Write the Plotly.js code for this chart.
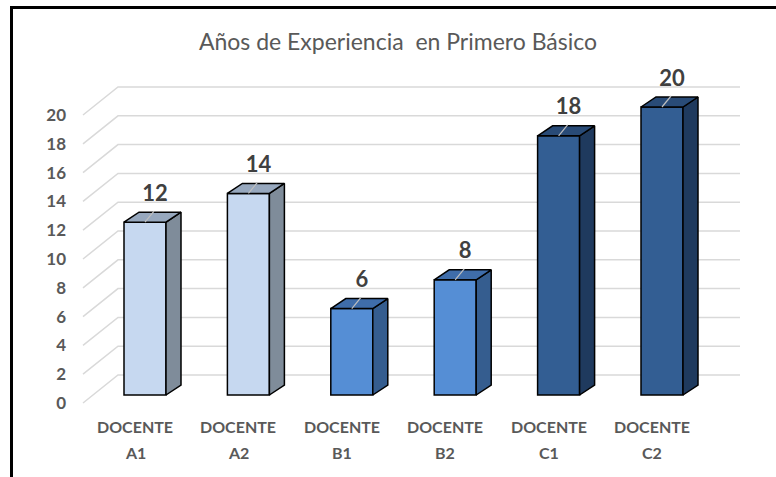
<!DOCTYPE html>
<html>
<head>
<meta charset="utf-8">
<script src="https://cdn.plot.ly/plotly-3.0.1.min.js"></script>
<style>
html,body{margin:0;padding:0;background:#fff;}
#chart{width:776px;height:477px;}
</style>
</head>
<body>
<div id="chart"></div>
<script>
// ---- data ----
const categories = ['DOCENTE A1','DOCENTE A2','DOCENTE B1','DOCENTE B2','DOCENTE C1','DOCENTE C2'];
const values = [12, 14, 6, 8, 18, 20];
const yTicks = [0, 2, 4, 6, 8, 10, 12, 14, 16, 18, 20];
const titleText = 'Años de Experiencia  en Primero Básico';

// ---- styles ----
const frontColors = ['#C6D8F0','#C6D8F0','#558ED5','#558ED5','#335E93','#335E93'];
const sideColors  = ['#7F8C9A','#7F8C9A','#355D8F','#355D8F','#1F3A5E','#1F3A5E'];
const topColors   = ['#97A8BE','#97A8BE','#3F6DAA','#3F6DAA','#294B77','#294B77'];

const PX_X = 103.4;   // pixels per category
const PX_Y = 14.4;    // pixels per unit
const barW = 42 / PX_X;
const ddx = 15 / PX_X, ddy = 10 / PX_Y;       // bar depth
const idx = categories.map((c, i) => i);

const traces = [];
// front faces
traces.push({
  type: 'bar', x: idx, y: values, width: barW,
  marker: {color: frontColors, line: {color: '#000', width: 1.5}},
  hoverinfo: 'skip', showlegend: false
});
// side + top faces
values.forEach((v, i) => {
  const l = i - barW / 2, r = i + barW / 2;
  traces.push({
    type: 'scatter', mode: 'lines', fill: 'toself', fillcolor: sideColors[i],
    x: [r, r + ddx, r + ddx, r, r], y: [0, ddy, v + ddy, v, 0],
    line: {color: '#000', width: 1.5}, hoverinfo: 'skip', showlegend: false
  });
  traces.push({
    type: 'scatter', mode: 'lines', fill: 'toself', fillcolor: topColors[i],
    x: [l, l + ddx, r + ddx, r, l], y: [v, v + ddy, v + ddy, v, v],
    line: {color: '#000', width: 1.5}, hoverinfo: 'skip', showlegend: false
  });
  // leader line
  traces.push({
    type: 'scatter', mode: 'lines',
    x: [i, i + 0.6 * ddx], y: [v, v + 1.1 * ddy],
    line: {color: '#BFBFBF', width: 1.2}, hoverinfo: 'skip', showlegend: false
  });
});
// data labels
traces.push({
  type: 'scatter', mode: 'text',
  x: idx.map(i => i + 10 / PX_X), y: values.map(v => v + 27 / PX_Y),
  text: values.map(String), textposition: 'middle center',
  textfont: {family: 'Lato, sans-serif', size: 22, color: '#404040', weight: 'bold'},
  hoverinfo: 'skip', showlegend: false
});

// gridlines (3D floor/back wall)
const gFrontX = (83 - 145) / PX_X, gBackX = (118 - 145) / PX_X, gEndX = (740 - 145) / PX_X;
const gFrontDy = -8 / PX_Y, gBackDy = 20 / PX_Y;
const shapes = yTicks.map(t => ({
  type: 'path', layer: 'below', xref: 'x', yref: 'y',
  path: `M ${gFrontX},${t + gFrontDy} L ${gBackX},${t + gBackDy} L ${gEndX},${t + gBackDy}`,
  line: {color: '#D9D9D9', width: 1.5}
}));
// frame (top and left border)
const L = 81, R = 31, T = 60, B = 67, W = 776, H = 477;
const pw = W - L - R, ph = H - T - B;
const px2paperX = px => (px - L) / pw;
const py2paperY = py => (H - B - py) / ph;
shapes.push({type: 'line', xref: 'paper', yref: 'paper', layer: 'above',
  x0: px2paperX(10), x1: px2paperX(776), y0: py2paperY(7.5), y1: py2paperY(7.5),
  line: {color: '#000', width: 3}});
shapes.push({type: 'line', xref: 'paper', yref: 'paper', layer: 'above',
  x0: px2paperX(11.5), x1: px2paperX(11.5), y0: py2paperY(6), y1: py2paperY(477),
  line: {color: '#000', width: 3}});

// category labels (two lines)
const annotations = [];
categories.forEach((c, i) => {
  const parts = c.split(' ');
  annotations.push({xref: 'x', yref: 'paper', x: i - 10 / PX_X, y: py2paperY(426),
    text: parts[0], showarrow: false, xanchor: 'center', yanchor: 'middle',
    font: {family: 'Lato, sans-serif', size: 16, color: '#595959', weight: 'bold'}});
  annotations.push({xref: 'x', yref: 'paper', x: i - 10 / PX_X, y: py2paperY(452),
    text: parts[1], showarrow: false, xanchor: 'center', yanchor: 'middle',
    font: {family: 'Lato, sans-serif', size: 16, color: '#595959', weight: 'bold'}});
});

const layout = {
  width: W, height: H,
  margin: {l: L, r: R, t: T, b: B},
  paper_bgcolor: '#fff', plot_bgcolor: 'rgba(0,0,0,0)',
  title: {text: titleText, x: 398 / W, xref: 'container', xanchor: 'center',
    y: 1 - 42 / H, yref: 'container', yanchor: 'middle',
    font: {family: 'Lato, sans-serif', size: 23, color: '#595959'}},
  xaxis: {range: [(L - 145) / PX_X, (W - R - 145) / PX_X], showgrid: false, zeroline: false,
    showline: false, showticklabels: false, ticks: '', fixedrange: true},
  yaxis: {range: [(395 - (H - B)) / PX_Y, (395 - T) / PX_Y], showgrid: false, zeroline: false,
    showline: false, ticks: '', tickvals: yTicks.map(t => t + gFrontDy), ticktext: yTicks.map(String),
    ticklabelstandoff: 14,
    tickfont: {family: 'Lato, sans-serif', size: 17, color: '#595959', weight: 'bold'}, fixedrange: true},
  shapes: shapes, annotations: annotations,
  bargap: 0, showlegend: false
};

Plotly.newPlot('chart', traces, layout, {displayModeBar: false, staticPlot: true});
</script>
</body>
</html>
